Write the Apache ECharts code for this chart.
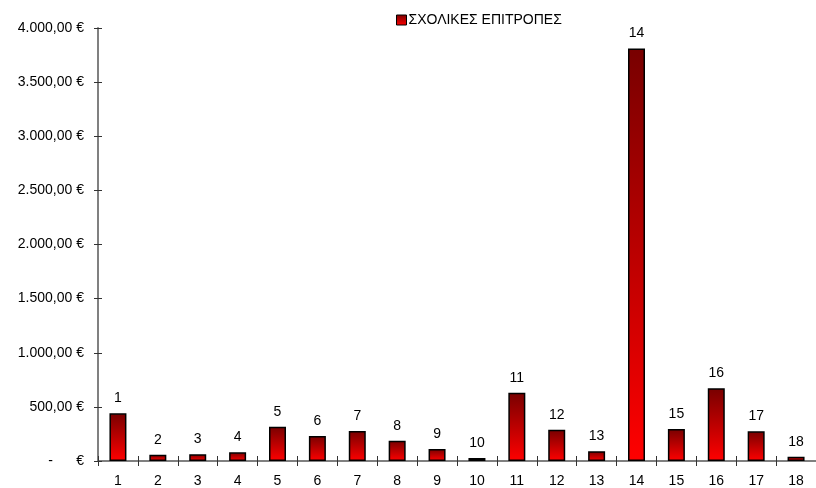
<!DOCTYPE html>
<html>
<head>
<meta charset="utf-8">
<script src="https://cdn.jsdelivr.net/npm/echarts@6/dist/echarts.min.js"></script>
<style>
  html, body { margin: 0; padding: 0; background: #fff; }
  #chart { width: 816px; height: 488px; }
</style>
</head>
<body>
<div id="chart"></div>
<script>
// data
var categories = ['1', '2', '3', '4', '5', '6', '7', '8', '9', '10', '11', '12', '13', '14', '15', '16', '17', '18'];
var values = [440, 58, 62, 80, 317, 231, 277, 188, 111, 28, 631, 289, 90, 3810, 296, 672, 274, 40];
var seriesName = 'ΣΧΟΛΙΚΕΣ ΕΠΙΤΡΟΠΕΣ';
var yMax = 4000;
var yStep = 500;

function euro(v) {
  if (v === 0) return '-      €';
  var parts = v.toFixed(2).split('.');
  var whole = parts[0].replace(/\B(?=(\d{3})+(?!\d))/g, '.');
  return whole + ',' + parts[1] + ' €';
}

var font = 'Liberation Sans, Arial, sans-serif';
var axisGrey = '#808080';

var barFill = new echarts.graphic.LinearGradient(0, 0, 0, 1, [
  { offset: 0, color: '#780000' },
  { offset: 1, color: '#ff0000' }
]);

var myChart = echarts.init(document.getElementById('chart'), null, { renderer: 'canvas' });

var option = {
  animation: false,
  textStyle: { fontFamily: font },
  grid: { left: 98, top: 28, width: 722, height: 433 },
  legend: {
    left: 396,
    top: 13,
    padding: 0,
    icon: 'rect',
    itemWidth: 10,
    itemHeight: 10,
    itemGap: 4,
    textStyle: { fontSize: 14, color: '#000', fontFamily: font, padding: [0, 0, 0, -3] },
    data: [{ name: seriesName, itemStyle: { borderColor: '#000', borderWidth: 1 } }]
  },
  xAxis: [
    {
      type: 'category',
      data: categories,
      position: 'bottom',
      axisLine: { lineStyle: { color: axisGrey, width: 2 } },
      axisTick: { show: true, length: 5, lineStyle: { color: '#333' } },
      axisLabel: { color: '#000', fontSize: 14, margin: 13, fontFamily: font },
      splitLine: { show: false }
    },
    {
      type: 'category',
      data: categories,
      position: 'bottom',
      axisLine: { show: false },
      axisTick: { show: true, inside: true, length: 5, lineStyle: { color: '#333' } },
      axisLabel: { show: false },
      splitLine: { show: false }
    }
  ],
  yAxis: [
    {
      type: 'value',
      min: 0,
      max: yMax,
      interval: yStep,
      axisLine: { show: true, lineStyle: { color: axisGrey, width: 2 } },
      axisTick: { show: true, length: 4, lineStyle: { color: '#333' } },
      axisLabel: { color: '#000', fontSize: 14, margin: 14, formatter: euro, fontFamily: font },
      splitLine: { show: false }
    },
    {
      type: 'value',
      min: 0,
      max: yMax,
      interval: yStep,
      position: 'left',
      axisLine: { show: false },
      axisTick: { show: true, inside: true, length: 4, lineStyle: { color: '#333' } },
      axisLabel: { show: false },
      splitLine: { show: false }
    }
  ],
  series: [
    {
      name: seriesName,
      type: 'bar',
      xAxisIndex: 0,
      yAxisIndex: 0,
      data: values,
      barWidth: 17,
      itemStyle: { color: barFill, borderColor: '#000', borderWidth: 1.5 },
      label: {
        show: true,
        position: 'top',
        distance: 8,
        color: '#000',
        fontSize: 14,
        fontFamily: font,
        formatter: function (p) { return p.name; }
      }
    }
  ]
};

myChart.setOption(option);
</script>
</body>
</html>
